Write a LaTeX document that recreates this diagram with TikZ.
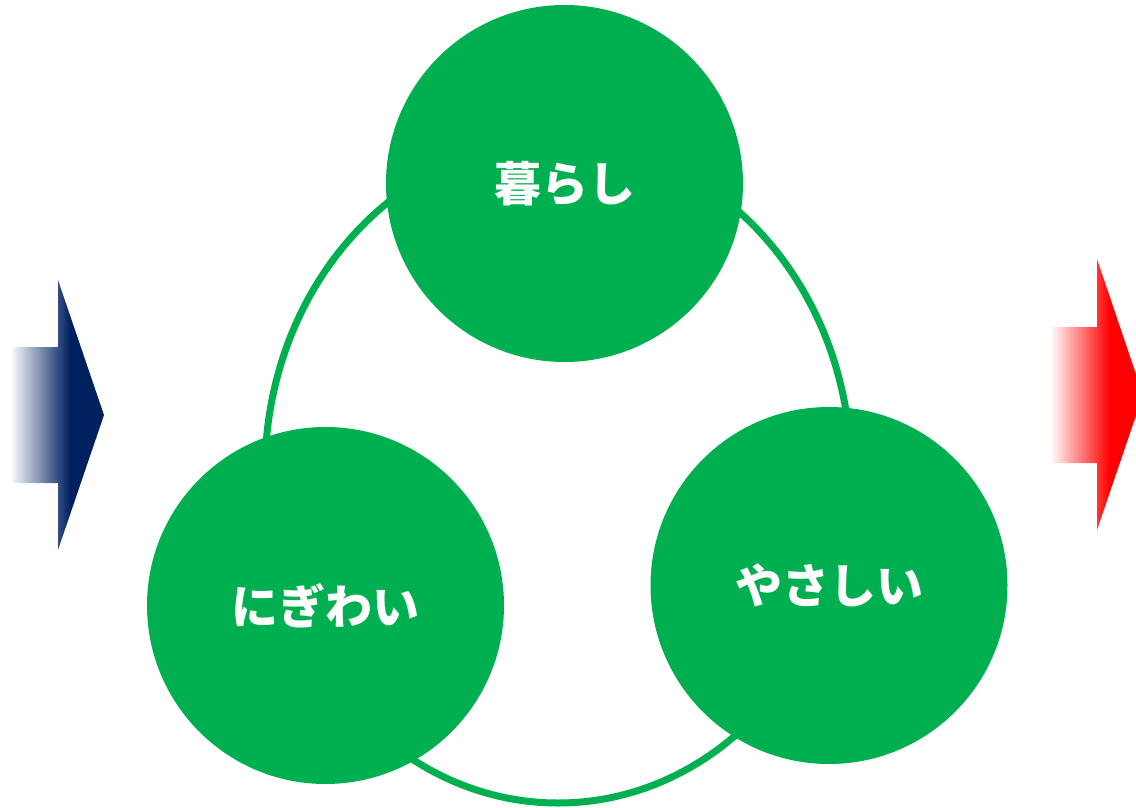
\documentclass[tikz,border=0pt]{standalone}
\usepackage{fontspec}
\usetikzlibrary{shapes.geometric}
\newfontfamily\jp{Noto Sans CJK JP}
\definecolor{ofgreen}{RGB}{0,176,80}
\definecolor{ofnavy}{RGB}{0,32,96}
\definecolor{ofred}{RGB}{255,0,0}
\pgfdeclarehorizontalshading{navyfade}{100bp}{color(0bp)=(white); color(25bp)=(white); color(57bp)=(ofnavy); color(100bp)=(ofnavy)}
\pgfdeclarehorizontalshading{redfade}{100bp}{color(0bp)=(white); color(25bp)=(white); color(57bp)=(ofred); color(100bp)=(ofred)}
\begin{document}
\begin{tikzpicture}[x=1pt,y=-1pt,
  bubble/.style={circle, fill=ofgreen, minimum size=357pt, inner sep=0pt, text=white,
    font=\jp\bfseries\fontsize{47}{47}\selectfont},
  ringstyle/.style={ellipse, draw=ofgreen, line width=7pt, minimum width=586pt, minimum height=662pt, inner sep=0pt}]
\useasboundingbox (0,0) rectangle (1136,808);
\clip (0,0) rectangle (1136,808);
% ring behind the circles
\node[ringstyle] (ring) at (558,472) {};
% three circles
\node[bubble] (kurashi) at (564.5,183.5) {暮らし};
\node[bubble] (nigiwai) at (325.5,605.5) {にぎわい};
\node[bubble] (yasashii) at (829,585.5) {やさしい};
% arrows
\path[shading=navyfade] (10,347) -- (58,347) -- (58,280) -- (104,415) -- (58,550) -- (58,483) -- (10,483) -- cycle;
\path[shading=redfade] (1050,327) -- (1097,327) -- (1097,259) -- (1143,395) -- (1097,530) -- (1097,463) -- (1050,463) -- cycle;
\end{tikzpicture}
\end{document}
